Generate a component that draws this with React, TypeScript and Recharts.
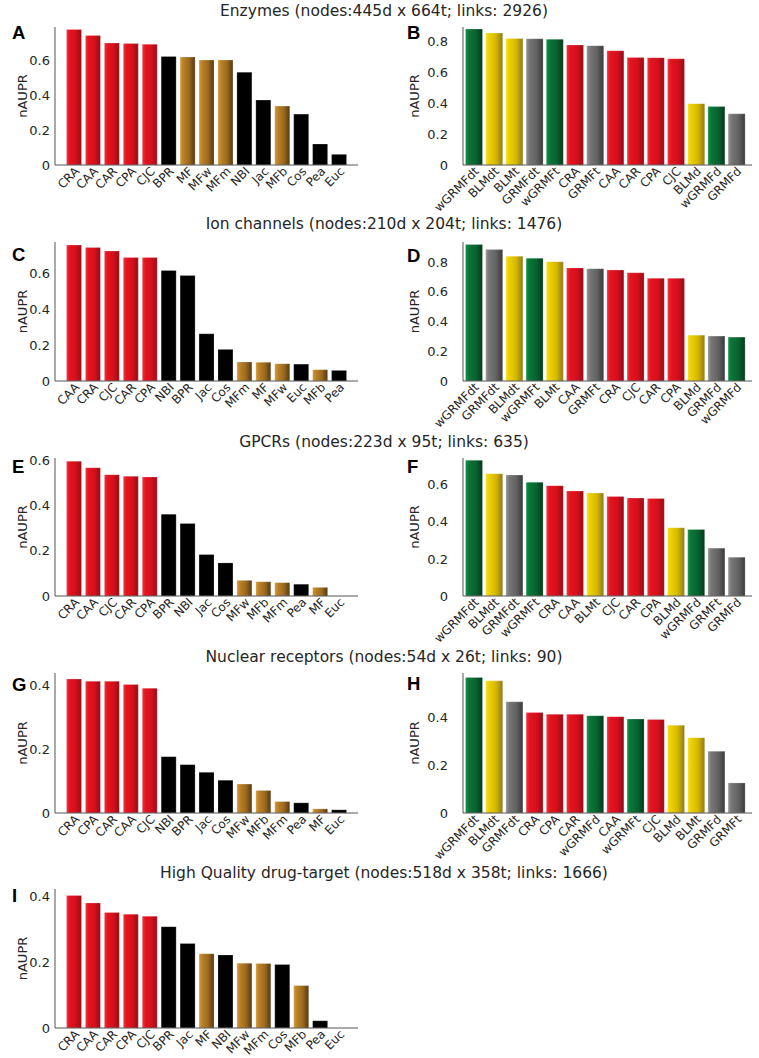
import React from 'react';
import { BarChart, Bar, XAxis, YAxis, Cell } from 'recharts';

// method names and nAUPR values
const enzymeNames = ['CRA', 'CAA', 'CAR', 'CPA', 'CJC', 'BPR', 'MF', 'MFw', 'MFm', 'NBI', 'Jac', 'MFb', 'Cos', 'Pea', 'Euc'];
const enzymeValues = [0.775, 0.741, 0.697, 0.695, 0.69, 0.621, 0.617, 0.6, 0.6, 0.531, 0.371, 0.337, 0.291, 0.12, 0.061];

const enzymeMfNames = ['wGRMFdt', 'BLMdt', 'BLMt', 'GRMFdt', 'wGRMFt', 'CRA', 'GRMFt', 'CAA', 'CAR', 'CPA', 'CJC', 'BLMd', 'wGRMFd', 'GRMFd'];
const enzymeMfValues = [0.882, 0.856, 0.821, 0.819, 0.815, 0.778, 0.774, 0.741, 0.698, 0.696, 0.689, 0.398, 0.38, 0.332];

const ionNames = ['CAA', 'CRA', 'CJC', 'CAR', 'CPA', 'NBI', 'BPR', 'Jac', 'Cos', 'MFm', 'MF', 'MFw', 'Euc', 'MFb', 'Pea'];
const ionValues = [0.757, 0.743, 0.724, 0.687, 0.687, 0.615, 0.587, 0.263, 0.176, 0.106, 0.104, 0.096, 0.094, 0.063, 0.059];

const ionMfNames = ['wGRMFdt', 'GRMFdt', 'BLMdt', 'wGRMFt', 'BLMt', 'CAA', 'GRMFt', 'CRA', 'CJC', 'CAR', 'CPA', 'BLMd', 'GRMFd', 'wGRMFd'];
const ionMfValues = [0.918, 0.883, 0.838, 0.825, 0.802, 0.76, 0.755, 0.746, 0.728, 0.69, 0.69, 0.308, 0.302, 0.295];

const gpcrNames = ['CRA', 'CAA', 'CJC', 'CAR', 'CPA', 'BPR', 'NBI', 'Jac', 'Cos', 'MFw', 'MFb', 'MFm', 'Pea', 'MF', 'Euc'];
const gpcrValues = [0.595, 0.566, 0.535, 0.528, 0.525, 0.361, 0.32, 0.183, 0.146, 0.069, 0.063, 0.059, 0.052, 0.038, 0];

const gpcrMfNames = ['wGRMFdt', 'BLMdt', 'GRMFdt', 'wGRMFt', 'CRA', 'CAA', 'BLMt', 'CJC', 'CAR', 'CPA', 'BLMd', 'wGRMFd', 'GRMFt', 'GRMFd'];
const gpcrMfValues = [0.732, 0.659, 0.652, 0.613, 0.595, 0.566, 0.555, 0.537, 0.528, 0.526, 0.368, 0.359, 0.258, 0.209];

const nuclearNames = ['CRA', 'CPA', 'CAR', 'CAA', 'CJC', 'NBI', 'BPR', 'Jac', 'Cos', 'MFw', 'MFb', 'MFm', 'Pea', 'MF', 'Euc'];
const nuclearValues = [0.421, 0.414, 0.414, 0.404, 0.392, 0.177, 0.152, 0.128, 0.103, 0.091, 0.071, 0.036, 0.032, 0.013, 0.01];

const nuclearMfNames = ['wGRMFdt', 'BLMdt', 'GRMFdt', 'CRA', 'CPA', 'CAR', 'wGRMFd', 'CAA', 'wGRMFt', 'CJC', 'BLMd', 'BLMt', 'GRMFd', 'GRMFt'];
const nuclearMfValues = [0.568, 0.554, 0.466, 0.421, 0.414, 0.414, 0.408, 0.404, 0.394, 0.392, 0.368, 0.316, 0.259, 0.126];

const hqNames = ['CRA', 'CAA', 'CAR', 'CPA', 'CJC', 'BPR', 'Jac', 'MF', 'NBI', 'MFw', 'MFm', 'Cos', 'MFb', 'Pea', 'Euc'];
const hqValues = [0.403, 0.38, 0.351, 0.346, 0.34, 0.308, 0.257, 0.226, 0.222, 0.197, 0.196, 0.193, 0.129, 0.022, 0];

const titles = [
  'Enzymes (nodes:445d x 664t; links: 2926)',
  'Ion channels (nodes:210d x 204t; links: 1476)',
  'GPCRs (nodes:223d x 95t; links: 635)',
  'Nuclear receptors (nodes:54d x 26t; links: 90)',
  'High Quality drug-target (nodes:518d x 358t; links: 1666)',
];

const TEXT = '#262626';
const FONT = '"DejaVu Sans", Verdana, sans-serif';

const gradients: { [key: string]: string[] } = {
  red: ['#ec3a42', '#e5131f', '#d4101c', '#980c17'],
  green: ['#12904a', '#0b7536', '#086330', '#053b1c'],
  yellow: ['#f7e020', '#ecd000', '#d4b800', '#8f7a1c'],
  gray: ['#959595', '#767676', '#636363', '#3a3a3a'],
  brown: ['#d39a3c', '#bb8226', '#9c6a1f', '#553812'],
};

const groupOf = (name: string) => {
  if (name.startsWith('wGRMF')) return 'green';
  if (name.startsWith('GRMF')) return 'gray';
  if (name.startsWith('BLM')) return 'yellow';
  if (name.startsWith('MF')) return 'brown';
  if (['CRA', 'CAA', 'CAR', 'CPA', 'CJC'].includes(name)) return 'red';
  return 'black';
};

interface PanelProps {
  id: string;
  names: string[];
  values: number[];
  col: number;
  top: number;
  bottom: number;
  ymax: number;
  ticks: number[];
  letterBase: number;
}

const Panel: React.FC<PanelProps> = ({ id, names, values, col, top, bottom, ymax, ticks, letterBase }) => {
  const isLeft = col === 0;
  const px = isLeft ? 0 : 380;
  const w = isLeft ? 378 : 379;
  const l = isLeft ? 55 : 463;
  const r = isLeft ? 358 : 752;
  const py = top - 8;
  const h = Math.min(bottom + 60, 1058) - py;
  const padL = isLeft ? 9.5 : 0.5;
  const padR = isLeft ? 9.5 : 5.7;
  const barSize = isLeft ? 15 : 17;
  const tickGap = isLeft ? 5 : 15;
  const labelX = (isLeft ? 22 : 414) - px;
  const labelY = (top + bottom) / 2 - py;

  const data = names.map((name, i) => ({ name, value: values[i] }));

  return (
    <>
      <div style={{ position: 'absolute', left: isLeft ? 12 : 407, top: letterBase - 15.5, fontFamily: '"Liberation Sans", Arial, sans-serif', fontWeight: 'bold', fontSize: 18.5, lineHeight: '18px', color: '#000' }}>
        {id}
      </div>
      <div style={{ position: 'absolute', left: px, top: py }}>
        <BarChart width={w} height={h} data={data} margin={{ top: top - py, right: px + w - r, bottom: 0, left: 0 }}>
          <defs>
            {Object.keys(gradients).map((g) => (
              <linearGradient key={g} id={`${id}-${g}`} x1="0" y1="0" x2="1" y2="0">
                <stop offset="0%" stopColor={gradients[g][0]} />
                <stop offset="20%" stopColor={gradients[g][1]} />
                <stop offset="60%" stopColor={gradients[g][2]} />
                <stop offset="100%" stopColor={gradients[g][3]} />
              </linearGradient>
            ))}
          </defs>
          <XAxis
            dataKey="name"
            interval={0}
            height={h - (bottom - py)}
            padding={{ left: padL, right: padR }}
            axisLine={{ stroke: '#555', strokeWidth: 1 }}
            tickLine={false}
            tickSize={0}
            tickMargin={1}
            angle={-45}
            tick={{ fontSize: 12, fill: TEXT, textAnchor: 'end' }}
          />
          <YAxis
            type="number"
            domain={[0, ymax]}
            ticks={ticks}
            allowDataOverflow
            width={l - px}
            axisLine={{ stroke: '#555', strokeWidth: 1 }}
            tickLine={false}
            tickSize={0}
            tickMargin={tickGap}
            tick={{ fontSize: 13, fill: TEXT }}
            label={{
              position: 'center',
              content: () => (
                <text x={labelX} y={labelY} transform={`rotate(-90, ${labelX}, ${labelY})`} textAnchor="middle" dominantBaseline="central" fontSize={13} fill={TEXT}>
                  nAUPR
                </text>
              ),
            }}
          />
          <Bar dataKey="value" barSize={barSize} isAnimationActive={false} stroke="#ffffff" strokeOpacity={0.35} strokeWidth={0.6}>
            {data.map((entry, index) => {
              const g = groupOf(entry.name);
              return <Cell key={`cell-${index}`} fill={g === 'black' ? '#000' : `url(#${id}-${g})`} />;
            })}
          </Bar>
        </BarChart>
      </div>
    </>
  );
};

const titleTops = [3.5, 216.5, 434.5, 649.5, 865.5];

export default function App() {
  return (
    <div style={{ position: 'absolute', left: 0, top: 0, width: 759, height: 1058, background: '#fff', fontFamily: FONT, overflow: 'hidden' }}>
      {titles.map((t, i) => (
        <div key={t} style={{ position: 'absolute', left: 0, width: 768, top: titleTops[i], textAlign: 'center', fontSize: 15.5, lineHeight: '15px', color: TEXT, whiteSpace: 'nowrap' }}>
          {t}
        </div>
      ))}
      <Panel id="A" names={enzymeNames} values={enzymeValues} col={0} top={27} bottom={165} ymax={0.789} ticks={[0, 0.2, 0.4, 0.6]} letterBase={39.5} />
      <Panel id="B" names={enzymeMfNames} values={enzymeMfValues} col={1} top={27} bottom={165} ymax={0.895} ticks={[0, 0.2, 0.4, 0.6, 0.8]} letterBase={39.5} />
      <Panel id="C" names={ionNames} values={ionValues} col={0} top={242} bottom={381} ymax={0.774} ticks={[0, 0.2, 0.4, 0.6]} letterBase={261} />
      <Panel id="D" names={ionMfNames} values={ionMfValues} col={1} top={242} bottom={381} ymax={0.934} ticks={[0, 0.2, 0.4, 0.6, 0.8]} letterBase={262} />
      <Panel id="E" names={gpcrNames} values={gpcrValues} col={0} top={458} bottom={596} ymax={0.609} ticks={[0, 0.2, 0.4, 0.6]} letterBase={473} />
      <Panel id="F" names={gpcrMfNames} values={gpcrMfValues} col={1} top={458} bottom={596} ymax={0.744} ticks={[0, 0.2, 0.4, 0.6]} letterBase={473} />
      <Panel id="G" names={nuclearNames} values={nuclearValues} col={0} top={673} bottom={813} ymax={0.44} ticks={[0, 0.2, 0.4]} letterBase={691} />
      <Panel id="H" names={nuclearMfNames} values={nuclearMfValues} col={1} top={673} bottom={813} ymax={0.587} ticks={[0, 0.2, 0.4]} letterBase={690} />
      <Panel id="I" names={hqNames} values={hqValues} col={0} top={889} bottom={1028} ymax={0.4225} ticks={[0, 0.2, 0.4]} letterBase={902} />
    </div>
  );
}
